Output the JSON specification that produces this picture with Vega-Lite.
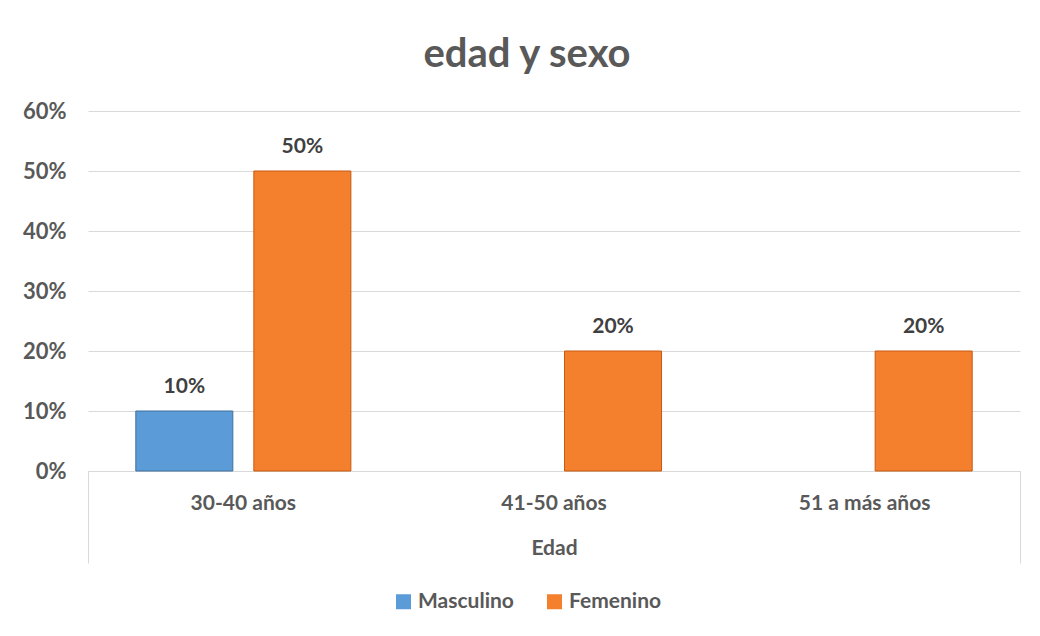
{
  "$schema": "https://vega.github.io/schema/vega-lite/v6.json",
  "autosize": "none",
  "width": 932,
  "height": 360,
  "padding": {"left": 88, "top": 111, "right": 20, "bottom": 165},
  "background": "white",
  "config": {
    "font": "Lato",
    "view": {"stroke": null}
  },
  "title": {
    "text": "edad y sexo",
    "font": "Lato",
    "fontSize": 40,
    "fontWeight": "bold",
    "color": "#595959",
    "anchor": "middle",
    "frame": "group",
    "baseline": "alphabetic",
    "offset": -7,
    "dx": -27
  },
  "data": {
    "values": [
      {"Edad": "30-40 años", "Sexo": "Masculino", "Porcentaje": 0.10},
      {"Edad": "30-40 años", "Sexo": "Femenino", "Porcentaje": 0.50},
      {"Edad": "41-50 años", "Sexo": "Femenino", "Porcentaje": 0.20},
      {"Edad": "51 a más años", "Sexo": "Femenino", "Porcentaje": 0.20}
    ]
  },
  "layer": [
    {
      "encoding": {
        "x": {
          "field": "Edad",
          "type": "nominal",
          "sort": null,
          "scale": {"paddingInner": 0, "paddingOuter": 0},
          "axis": {
            "orient": "bottom",
            "title": "Edad",
            "labelAngle": 0,
            "labelFont": "Lato",
            "labelFontSize": 21,
            "labelFontWeight": "bold",
            "labelColor": "#595959",
            "labelPadding": 21,
            "ticks": false,
            "domainColor": "#d9d9d9",
            "domainWidth": 1,
            "titleFont": "Lato",
            "titleFontSize": 21,
            "titleFontWeight": "bold",
            "titleColor": "#595959",
            "titlePadding": 24,
            "grid": false
          }
        },
        "xOffset": {
          "field": "Sexo",
          "type": "nominal",
          "sort": ["Masculino", "Femenino"],
          "scale": {"domain": ["Masculino", "Femenino"], "paddingInner": 0.178, "paddingOuter": 0.405}
        },
        "y": {
          "field": "Porcentaje",
          "type": "quantitative",
          "scale": {"domain": [0, 0.6], "nice": false},
          "axis": {
            "title": null,
            "values": [0, 0.1, 0.2, 0.3, 0.4, 0.5, 0.6],
            "format": ".0%",
            "labelFont": "Lato",
            "labelFontSize": 22,
            "labelFontWeight": "bold",
            "labelColor": "#595959",
            "labelPadding": 22,
            "ticks": false,
            "domain": false,
            "gridColor": "#d9d9d9",
            "gridWidth": 1
          }
        }
      },
      "layer": [
        {
          "mark": {"type": "bar", "strokeWidth": 1},
          "encoding": {
            "color": {
              "field": "Sexo",
              "type": "nominal",
              "scale": {"domain": ["Masculino", "Femenino"], "range": ["#5B9BD8", "#F47F2C"]},
              "legend": {
                "title": null,
                "orient": "none",
                "legendX": 305,
                "legendY": 480,
                "direction": "horizontal",
                "symbolType": "square",
                "symbolSize": 225,
                "symbolStrokeWidth": 0,
                "labelFont": "Lato",
                "labelFontSize": 21,
                "labelFontWeight": "bold",
                "labelColor": "#595959",
                "columnPadding": 30,
                "labelOffset": 4
              }
            },
            "stroke": {
              "field": "Sexo",
              "type": "nominal",
              "scale": {"domain": ["Masculino", "Femenino"], "range": ["#41719C", "#C55A11"]},
              "legend": null
            }
          }
        },
        {
          "mark": {"type": "text", "baseline": "alphabetic", "dy": -18, "font": "Lato", "fontSize": 21, "fontWeight": "bold", "color": "#404040"},
          "encoding": {
            "text": {"field": "Porcentaje", "type": "quantitative", "format": ".0%"}
          }
        }
      ]
    },
    {
      "mark": {"type": "rule", "opacity": 0},
      "encoding": {
        "x": {
          "datum": 0,
          "type": "quantitative",
          "scale": {"domain": [0, 1], "nice": false, "zero": false},
          "axis": {
            "orient": "bottom",
            "values": [0, 1],
            "labels": false,
            "grid": false,
            "domain": false,
            "ticks": true,
            "tickSize": 92,
            "tickColor": "#d9d9d9",
            "tickWidth": 1,
            "title": null
          }
        }
      }
    }
  ],
  "resolve": {"scale": {"x": "independent"}}
}
